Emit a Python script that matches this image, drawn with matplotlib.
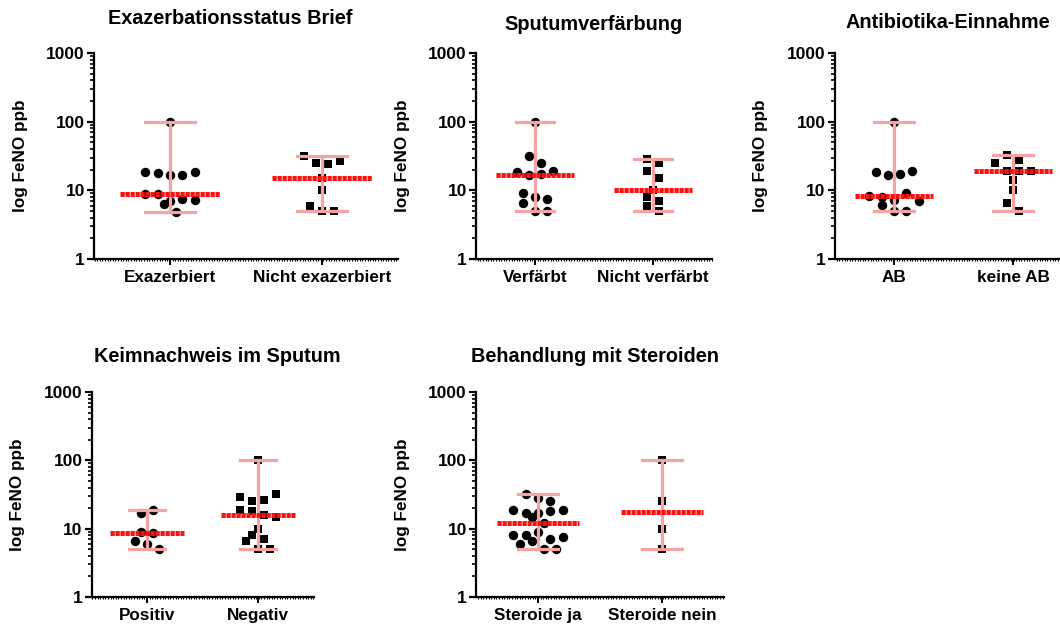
import numpy as np
import matplotlib
matplotlib.use('Agg')
import matplotlib.pyplot as plt
from matplotlib.ticker import FixedLocator, NullFormatter, MultipleLocator

plt.rcParams['font.family'] = ['Liberation Sans', 'DejaVu Sans']
plt.rcParams['font.weight'] = 'bold'

# Werte (FeNO ppb)
exazerbiert = [100, 18.5, 18, 16.5, 17, 18.5, 8.9, 8.8, 6.9, 7.5, 6.3, 7.25, 4.8]
exazerbiert_nicht = [32, 25, 24, 27, 15, 10, 6, 5, 5]
verfaerbt = [100, 32, 25, 18.7, 17, 17.3, 19, 9, 6.5, 8, 7.5, 5, 5]
verfaerbt_nicht = [29, 25, 19, 15, 10, 8, 7, 6, 5]
ab = [100, 18.3, 16.9, 17.5, 19, 8.3, 8, 7.35, 9, 6.1, 6.9, 5, 5]
keine_ab = [33, 28, 25, 19, 19, 19, 14, 10, 6.5, 5]
positiv = [17, 19, 9, 8.5, 6.5, 6, 5]
negativ = [100, 29, 25, 26, 32, 19, 18, 16, 15, 10, 8, 7, 6.5, 5, 5]
steroide_ja = [32, 28, 25, 19, 17, 15, 17, 18, 19, 12, 8, 8, 9, 7, 6, 6.5, 7.5, 5, 5]
steroide_nein = [100, 25, 10, 5]

titles = ['Exazerbationsstatus Brief', 'Sputumverfärbung', 'Antibiotika-Einnahme',
          'Keimnachweis im Sputum', 'Behandlung mit Steroiden']
labels = [('Exazerbiert', 'Nicht exazerbiert'), ('Verfärbt', 'Nicht verfärbt'),
          ('AB', 'keine AB'), ('Positiv', 'Negativ'), ('Steroide ja', 'Steroide nein')]
data = [(exazerbiert, exazerbiert_nicht), (verfaerbt, verfaerbt_nicht), (ab, keine_ab),
        (positiv, negativ), (steroide_ja, steroide_nein)]

W, H = 1060, 624
# Achsen in Pixeln: links, oben(1000), rechts, unten(1)
boxes = [(94, 53, 398, 259), (476, 53, 712, 259), (834.5, 53, 1072.5, 259),
         (91.5, 392, 313.5, 597), (476, 392, 724, 597)]
title_pos = [(230, 19), (594, 24), (948, 22), (217, 357), (595, 357)]

PINK = '#f7a3a3'
RED = '#ff1010'


def swarm(vals, px_dec, px_unit, step_px=12.3, row_px=9.0):
    # Punkte in Zeilen gruppieren und symmetrisch verteilen (wie Prism)
    vals = np.asarray(vals, float)
    order = np.argsort(vals, kind='stable')
    lv = np.log10(vals) * px_dec
    off = np.zeros(len(vals))
    i = 0
    while i < len(order):
        j = i
        while j + 1 < len(order) and lv[order[j + 1]] - lv[order[i]] < row_px:
            j += 1
        row = sorted(order[i:j + 1])
        k = len(row)
        for n, idx in enumerate(row):
            off[idx] = (n - (k - 1) / 2) * step_px / px_unit
        i = j + 1
    return off


fig = plt.figure(figsize=(W / 100, H / 100), dpi=100)

for p in range(5):
    l, t, r, b = boxes[p]
    wpx, hpx = r - l, b - t
    ax = fig.add_axes([l / W, (H - b) / H, wpx / W, hpx / H])
    px_unit = wpx / 2
    px_dec = hpx / 3
    for g in range(2):
        vals = np.array(data[p][g], float)
        x = g + swarm(vals, px_dec, px_unit)
        ax.plot(x, vals, 'o' if g == 0 else 's', color='black',
                ms=6.8 if g == 0 else 5.8, mew=0, zorder=2, clip_on=False)
        lo, hi, med = vals.min(), vals.max(), np.median(vals)
        ax.plot([g, g], [lo, hi], color=PINK, lw=2.3, zorder=3, solid_capstyle='butt')
        ax.plot([g - 0.165, g + 0.165], [lo, lo], color=PINK, lw=2.3, zorder=3)
        ax.plot([g - 0.165, g + 0.165], [hi, hi], color=PINK, lw=2.3, zorder=3)
        ax.plot([g - 0.33, g + 0.33], [med, med], color=RED, lw=3.6, zorder=4,
                linestyle=(0, (0.85, 0.15)), dash_capstyle='butt')

    ax.set_yscale('log')
    ax.set_ylim(1, 1000)
    ax.set_xlim(-0.5, 1.5)
    ax.yaxis.set_major_locator(FixedLocator([1, 10, 100, 1000]))
    ax.set_yticklabels(['1', '10', '100', '1000'])
    ax.yaxis.set_minor_locator(FixedLocator([m * 10 ** d for d in range(3) for m in range(2, 10)]))
    ax.yaxis.set_minor_formatter(NullFormatter())
    ax.set_xticks([0, 1])
    ax.set_xticklabels(labels[p])
    ax.xaxis.set_minor_locator(MultipleLocator(2.6 / px_unit))

    for s in ('top', 'right'):
        ax.spines[s].set_visible(False)
    for s in ('left', 'bottom'):
        ax.spines[s].set_linewidth(1.6)
    ax.tick_params(axis='y', which='major', length=5, width=1.6, labelsize=12.5, pad=1.5)
    ax.tick_params(axis='y', which='minor', length=3, width=1.2)
    ax.tick_params(axis='x', which='major', length=4, width=1.4, labelsize=12.3, pad=4)
    ax.tick_params(axis='x', which='minor', length=1.5, width=0.8)
    for lab in ax.get_xticklabels() + ax.get_yticklabels():
        lab.set_fontweight('bold')

    ax.set_ylabel('log FeNO ppb', fontsize=12.3, fontweight='bold')
    ax.yaxis.set_label_coords(-66 / wpx, 0.5)

    tx, ty = title_pos[p]
    fig.text(tx / W, 1 - ty / H, titles[p], ha='center', va='center',
             fontsize=14.3, fontweight='bold')

fig.savefig('out.png', dpi=100)
